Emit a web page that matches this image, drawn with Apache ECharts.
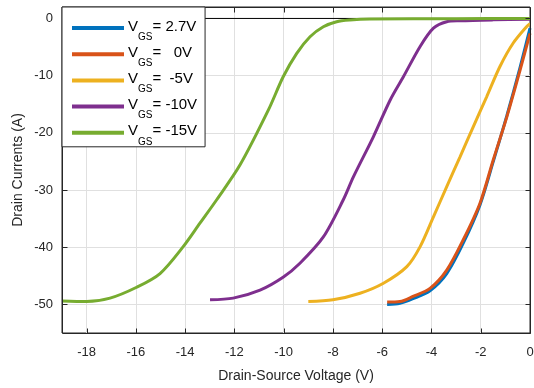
<!DOCTYPE html>
<html>
<head>
<meta charset="utf-8">
<script src="https://cdn.jsdelivr.net/npm/echarts@6/dist/echarts.min.js"></script>
<style>
  html, body { margin: 0; padding: 0; background: #fff; }
  #chart { width: 534px; height: 388px; }
</style>
</head>
<body>
<div id="chart"></div>
<script>
// Output characteristics: drain current vs drain-source voltage for several gate voltages
const gateLabels = ['2.7V', '  0V', ' -5V', '-10V', '-15V'];
const seriesNames = ['VGS=2.7V', 'VGS=0V', 'VGS=-5V', 'VGS=-10V', 'VGS=-15V'];
const lineColors = ['#0072BD', '#D95319', '#EDB120', '#7E2F8E', '#77AC30'];

// [Vds, Id] pairs per gate voltage
const vgsP27 = [[-5.8,-50.0],[-5.28,-49.8],[-4.75,-49.0],[-4.06,-47.6],[-3.38,-44.6],[-2.71,-39.3],[-2.03,-32.6],[-1.49,-25.0],[-0.94,-17.0],[-0.40,-8.5],[0,-1.7]];
const vgs0 = [[-5.8,-49.6],[-5.28,-49.5],[-4.75,-48.6],[-4.06,-47.2],[-3.38,-44.0],[-2.71,-38.7],[-2.03,-32.3],[-1.49,-24.7],[-0.94,-17.2],[-0.40,-9.0],[0,-2.6]];
const vgsM5 = [[-9.0,-49.5],[-8.0,-49.2],[-6.9,-48.05],[-5.95,-46.3],[-5.0,-43.4],[-4.46,-39.9],[-3.92,-34.7],[-3.38,-29.4],[-2.84,-24.2],[-2.30,-18.9],[-1.76,-13.7],[-1.22,-8.4],[-0.68,-4.3],[-0.13,-1.4],[0,-0.9]];
const vgsM10 = [[-12.99,-49.2],[-12.05,-48.9],[-10.96,-47.5],[-10.01,-45.2],[-9.34,-42.8],[-8.39,-38.2],[-7.58,-31.7],[-7.17,-27.7],[-6.36,-20.7],[-5.68,-14.3],[-5.14,-10.2],[-4.46,-4.9],[-3.92,-1.7],[-3.38,-0.57],[-2.84,-0.4],[-1.5,-0.25],[0,-0.15]];
const vgsM15 = [[-19,-49.4],[-18.0,-49.5],[-17.05,-48.9],[-15.97,-47.0],[-15.02,-44.6],[-14.08,-39.9],[-13.4,-35.8],[-12.72,-31.7],[-11.77,-25.6],[-10.62,-16.0],[-10.02,-10.2],[-9.47,-6.1],[-8.93,-3.2],[-8.39,-1.45],[-7.85,-0.57],[-7.31,-0.27],[-6.5,-0.1],[-3,-0.05],[0,0]];
const curves = [vgsP27, vgs0, vgsM5, vgsM10, vgsM15];

// zero-current reference line
const zeroLine = [[-19, 0], [0, 0]];

const xRange = [-19, 0];
const yRange = [-55, 2];
// tick positions for the box ticks on all four sides
const xTicks = [-18, -16, -14, -12, -10, -8, -6, -4, -2, 0];
const yTicks = [-50, -40, -30, -20, -10, 0];

const axisColor = '#262626';
const fontFamily = 'Liberation Sans, Arial, Helvetica, sans-serif';
const tickLen = 5;

const chart = echarts.init(document.getElementById('chart'), null, { renderer: 'canvas' });

const lineSeries = curves.map((d, i) => ({
  name: seriesNames[i],
  type: 'line',
  data: d,
  showSymbol: false,
  symbol: 'none',
  smooth: 0.3,
  lineStyle: { color: lineColors[i], width: 3 },
  itemStyle: { color: lineColors[i] },
  z: 3 + i,
  silent: true
}));

// plot frame and inward ticks, drawn through the axis scales
const frameSeries = {
  name: 'frame',
  type: 'custom',
  silent: true,
  clip: false,
  z: 12,
  data: [[xRange[0], yRange[0]]],
  renderItem: function (params, api) {
    const tl = api.coord([xRange[0], yRange[1]]);
    const br = api.coord([xRange[1], yRange[0]]);
    const x0 = Math.round(tl[0]) + 0.5, x1 = Math.round(br[0]) + 0.5;
    const y0 = Math.round(tl[1]) + 0.5, y1 = Math.round(br[1]) + 0.5;
    const style = { stroke: axisColor, lineWidth: 1 };
    const children = [
      { type: 'polyline', shape: { points: [[x0, y0], [x1, y0], [x1, y1], [x0, y1], [x0, y0]] }, style: { stroke: axisColor, lineWidth: 1, fill: null } }
    ];
    xTicks.forEach(v => {
      const p = api.coord([v, yRange[0]]);
      const xx = Math.round(p[0]) + 0.5;
      children.push({ type: 'line', shape: { x1: xx, y1: y1, x2: xx, y2: y1 - tickLen }, style });
      children.push({ type: 'line', shape: { x1: xx, y1: y0, x2: xx, y2: y0 + tickLen }, style });
    });
    yTicks.forEach(v => {
      const p = api.coord([xRange[0], v]);
      const yy = Math.round(p[1]) + 0.5;
      children.push({ type: 'line', shape: { x1: x0, y1: yy, x2: x0 + tickLen, y2: yy }, style });
      children.push({ type: 'line', shape: { x1: x1, y1: yy, x2: x1 - tickLen, y2: yy }, style });
    });
    return { type: 'group', children };
  }
};

const labelMap = {};
seriesNames.forEach((n, i) => { labelMap[n] = gateLabels[i]; });

const option = {
  animation: false,
  grid: {
    left: 62, right: 4, top: 7, bottom: 55,
    containLabel: false, outerBoundsMode: 'none',
    show: true, borderColor: axisColor, borderWidth: 1
  },
  xAxis: {
    type: 'value',
    min: xRange[0], max: xRange[1], splitNumber: 10,
    position: 'bottom',
    name: 'Drain-Source Voltage (V)',
    nameLocation: 'middle', nameGap: 36, nameMoveOverlap: false,
    nameTextStyle: { fontFamily, fontSize: 14, color: axisColor },
    axisLine: { show: false },
    axisTick: { show: false },
    axisLabel: { show: true, showMinLabel: false, margin: 13, fontFamily, fontSize: 13, color: axisColor },
    splitLine: { show: true, lineStyle: { color: '#e0e0e0', width: 1 } }
  },
  yAxis: {
    type: 'value',
    min: yRange[0], max: yRange[1], splitNumber: 6,
    position: 'left',
    name: 'Drain Currents (A)',
    nameLocation: 'middle', nameGap: 37, nameMoveOverlap: false,
    nameTextStyle: { fontFamily, fontSize: 14, color: axisColor },
    axisLine: { show: false },
    axisTick: { show: false },
    axisLabel: { show: true, showMinLabel: false, showMaxLabel: false, margin: 9, fontFamily, fontSize: 13, color: axisColor },
    splitLine: { show: true, lineStyle: { color: '#e0e0e0', width: 1 } }
  },
  legend: {
    show: true,
    data: seriesNames,
    orient: 'vertical',
    left: 62,
    top: 7,
    width: 147,
    padding: [12, 8, 0, 10],
    itemGap: 3.2,
    itemWidth: 52,
    itemHeight: 4,
    icon: 'rect',
    backgroundColor: '#ffffff',
    borderColor: axisColor,
    borderWidth: 1,
    borderRadius: 0,
    selectedMode: false,
    formatter: name => '{v|V}{s|GS}{t|= ' + labelMap[name] + '}',
    textStyle: {
      fontFamily,
      color: '#000',
      padding: [0, 0, 0, -1],
      rich: {
        v: { fontFamily, fontSize: 15, lineHeight: 18, color: '#000', verticalAlign: 'top' },
        t: { fontFamily, fontSize: 15, lineHeight: 18, color: '#000', verticalAlign: 'top' },
        s: { fontFamily, fontSize: 10, lineHeight: 10, color: '#000', verticalAlign: 'top', padding: [13, 0, 0, 0] }
      }
    },
    z: 20
  },
  series: [
    {
      name: 'zero',
      type: 'line',
      data: zeroLine,
      showSymbol: false,
      symbol: 'none',
      lineStyle: { color: '#000000', width: 1 },
      z: 2,
      silent: true
    },
    frameSeries
  ].concat(lineSeries)
};

chart.setOption(option);
</script>
</body>
</html>
